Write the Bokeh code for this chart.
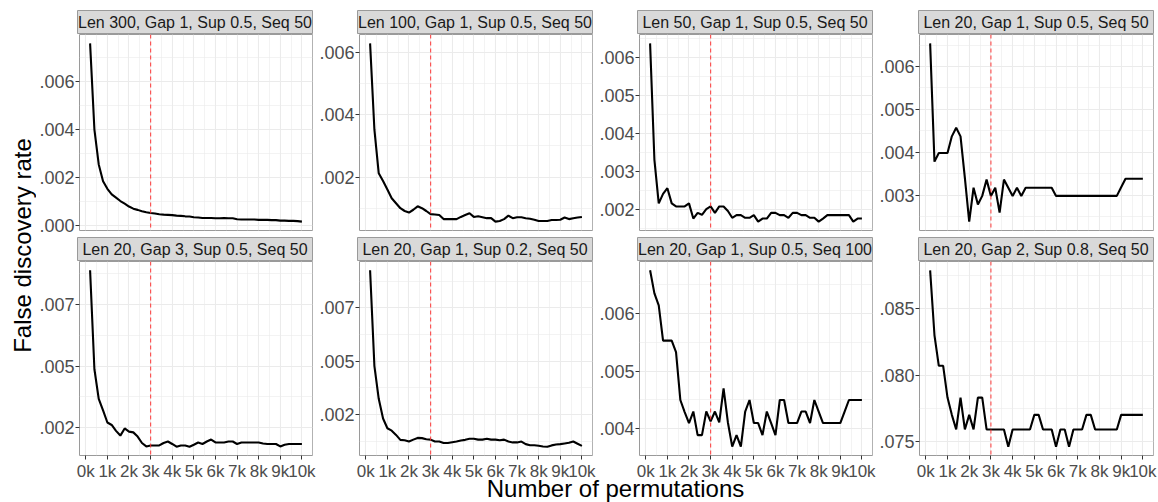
import math
from bokeh.plotting import figure
from bokeh.models import (Range1d, FixedTicker, LinearAxis, Grid, Span, Label,
                          CustomJSTickFormatter)
from bokeh.layouts import row, column
from bokeh.embed import file_html
from bokeh.resources import INLINE

# ---------------- data ----------------
permutations = [200, 400, 600, 800, 1000, 1200, 1400, 1600, 1800, 2000,
                2200, 2400, 2600, 2800, 3000, 3200, 3400, 3600, 3800, 4000,
                4200, 4400, 4600, 4800, 5000, 5200, 5400, 5600, 5800, 6000,
                6200, 6400, 6600, 6800, 7000, 7200, 7400, 7600, 7800, 8000,
                8200, 8400, 8600, 8800, 9000, 9200, 9400, 9600, 9800, 10000]
x_tick_values = [0, 1000, 2000, 3000, 4000, 5000, 6000, 7000, 8000, 9000, 10000]
x_tick_labels = ["0k", "1k", "2k", "3k", "4k", "5k", "6k", "7k", "8k", "9k", "10k"]
threshold = 3000

titles = ["Len 300, Gap 1, Sup 0.5, Seq 50", "Len 100, Gap 1, Sup 0.5, Seq 50",
          "Len 50, Gap 1, Sup 0.5, Seq 50", "Len 20, Gap 1, Sup 0.5, Seq 50",
          "Len 20, Gap 3, Sup 0.5, Seq 50", "Len 20, Gap 1, Sup 0.2, Seq 50",
          "Len 20, Gap 1, Sup 0.5, Seq 100", "Len 20, Gap 2, Sup 0.8, Seq 50"]

fdr_len300 = [0.0076, 0.0040, 0.00254, 0.00184, 0.00152, 0.00129, 0.00115, 0.00101, 0.0009, 0.00078,
              0.00069, 0.00064, 0.00058, 0.00054, 0.00051, 0.00049, 0.00046, 0.00044, 0.00043, 0.00042,
              0.0004, 0.00039, 0.00037, 0.00036, 0.00033, 0.00032, 0.0003, 0.0003, 0.0003, 0.00029,
              0.00029, 0.0003, 0.00029, 0.00029, 0.00025, 0.00024, 0.00024, 0.00024, 0.00024, 0.00022,
              0.00022, 0.00022, 0.00021, 0.00021, 0.00019, 0.00019, 0.00018, 0.00018, 0.00017, 0.00015]
fdr_len100 = [0.00629, 0.00352, 0.00212, 0.00187, 0.0016, 0.00132, 0.00116, 0.001, 0.00091, 0.00086,
              0.00095, 0.00106, 0.001, 0.00091, 0.00081, 0.0008, 0.00078, 0.00065, 0.00065, 0.00065,
              0.00065, 0.00072, 0.00078, 0.00084, 0.00072, 0.00074, 0.00071, 0.00068, 0.00068, 0.00057,
              0.00059, 0.00065, 0.00076, 0.00068, 0.00071, 0.00071, 0.00068, 0.00066, 0.00063, 0.00059,
              0.00059, 0.00059, 0.00062, 0.00062, 0.00063, 0.0007, 0.00065, 0.00068, 0.0007, 0.00072]
fdr_len50 = [0.00637, 0.0033, 0.00215, 0.0024, 0.00255, 0.00215, 0.00207, 0.00207, 0.00207, 0.00215,
             0.00175, 0.0019, 0.00185, 0.002, 0.00207, 0.0019, 0.00207, 0.00207, 0.00195, 0.00177,
             0.00184, 0.00184, 0.00177, 0.00177, 0.00184, 0.00167, 0.00175, 0.00175, 0.0019, 0.0019,
             0.00184, 0.00184, 0.00177, 0.0019, 0.0019, 0.00184, 0.00184, 0.00177, 0.00177, 0.00167,
             0.00175, 0.00184, 0.00184, 0.00184, 0.00184, 0.00184, 0.00184, 0.00167, 0.00175, 0.00175]
fdr_len20 = [0.00654, 0.00378, 0.00398, 0.00398, 0.00398, 0.00437, 0.00457, 0.00437, 0.0034, 0.00238,
             0.00317, 0.00278, 0.00298, 0.00336, 0.00298, 0.00317, 0.00259, 0.00336, 0.00317, 0.00298,
             0.00317, 0.00298, 0.00317, 0.00317, 0.00317, 0.00317, 0.00317, 0.00317, 0.00317, 0.00298,
             0.00298, 0.00298, 0.00298, 0.00298, 0.00298, 0.00298, 0.00298, 0.00298, 0.00298, 0.00298,
             0.00298, 0.00298, 0.00298, 0.00298, 0.00318, 0.00338, 0.00338, 0.00338, 0.00338, 0.00338]
fdr_gap3 = [0.00888, 0.00487, 0.00367, 0.0032, 0.00271, 0.00261, 0.00237, 0.00218, 0.00247, 0.00234,
            0.00231, 0.00214, 0.00188, 0.00174, 0.00178, 0.00178, 0.00178, 0.00188, 0.00194, 0.00184,
            0.00173, 0.00178, 0.00178, 0.00173, 0.00181, 0.0019, 0.00184, 0.00194, 0.00202, 0.0019,
            0.0019, 0.0019, 0.00194, 0.00194, 0.00184, 0.0019, 0.0019, 0.0019, 0.0019, 0.0019,
            0.00186, 0.00184, 0.00184, 0.00184, 0.00174, 0.00181, 0.00184, 0.00184, 0.00184, 0.00184]
fdr_sup02 = [0.00925, 0.00477, 0.00324, 0.00232, 0.00186, 0.00175, 0.00155, 0.00132, 0.0013, 0.00124,
             0.00133, 0.00141, 0.0014, 0.00135, 0.00133, 0.00124, 0.00124, 0.00117, 0.00117, 0.00121,
             0.00124, 0.00129, 0.00132, 0.00137, 0.00137, 0.00133, 0.00133, 0.00137, 0.00133, 0.00133,
             0.0013, 0.00133, 0.00124, 0.0012, 0.0012, 0.00124, 0.00112, 0.00107, 0.00107, 0.00104,
             0.00101, 0.001, 0.00106, 0.0011, 0.00112, 0.00115, 0.00118, 0.00124, 0.00114, 0.00104]
fdr_seq100 = [0.00675, 0.00635, 0.00614, 0.00553, 0.00553, 0.00553, 0.00533, 0.0045, 0.00429, 0.0041,
              0.0043, 0.00389, 0.00389, 0.0043, 0.00413, 0.0043, 0.00411, 0.0047, 0.00411, 0.00369,
              0.00389, 0.00369, 0.0043, 0.0045, 0.0041, 0.0041, 0.00389, 0.0043, 0.0041, 0.00389,
              0.0045, 0.0045, 0.0041, 0.0041, 0.0041, 0.0043, 0.0043, 0.0041, 0.0045, 0.0043,
              0.0041, 0.0041, 0.0041, 0.0041, 0.0041, 0.0043, 0.0045, 0.0045, 0.0045, 0.0045]
fdr_sup08 = [0.0879, 0.083, 0.0807, 0.0807, 0.0783, 0.077, 0.0759, 0.0783, 0.0759, 0.077,
             0.0759, 0.0783, 0.0783, 0.0759, 0.0759, 0.0759, 0.0759, 0.0759, 0.0746, 0.0759,
             0.0759, 0.0759, 0.0759, 0.0759, 0.077, 0.077, 0.0759, 0.0759, 0.0759, 0.0746,
             0.0759, 0.0759, 0.0746, 0.0759, 0.0759, 0.0759, 0.077, 0.077, 0.0759, 0.0759,
             0.0759, 0.0759, 0.0759, 0.0759, 0.077, 0.077, 0.077, 0.077, 0.077, 0.077]

series = [fdr_len300, fdr_len100, fdr_len50, fdr_len20,
          fdr_gap3, fdr_sup02, fdr_seq100, fdr_sup08]

y_ticks = [[0.0, 0.002, 0.004, 0.006], [0.002, 0.004, 0.006],
           [0.002, 0.003, 0.004, 0.005, 0.006], [0.003, 0.004, 0.005, 0.006],
           [0.0025, 0.005, 0.0075], [0.0025, 0.005, 0.0075],
           [0.004, 0.005, 0.006], [0.075, 0.080, 0.085]]
y_tick_labels = [[".000", ".002", ".004", ".006"], [".002", ".004", ".006"],
                 [".002", ".003", ".004", ".005", ".006"], [".003", ".004", ".005", ".006"],
                 [".002", ".005", ".007"], [".002", ".005", ".007"],
                 [".004", ".005", ".006"], [".075", ".080", ".085"]]

# ---------------- styling ----------------
FONT = "Liberation Sans"
BORDER = "#9A9A9A"
GRID = "#EBEBEB"
FRAME_W = 235
FRAME_H = 196
col_left = [41, 41, 41, 42]
col_right = [4, 4, 4, 5]

FMT_CODE = """
let best = 0;
for (let k = 0; k < vals.length; k++) {
  if (Math.abs(vals[k] - tick) < Math.abs(vals[best] - tick)) best = k;
}
return labs[best];
"""


def minor_of(ticks):
    step = ticks[1] - ticks[0]
    return ([ticks[0] - step / 2] + [(a + b) / 2 for a, b in zip(ticks[:-1], ticks[1:])]
            + [ticks[-1] + step / 2])


def base_fig(w, h, **kw):
    p = figure(width=w, height=h, toolbar_location=None, output_backend="svg",
               x_axis_location=None, y_axis_location=None, **kw)
    p.center = []          # drop the default grids
    p.min_border = 0
    p.min_border_left = 0
    p.min_border_right = 0
    p.min_border_top = 0
    p.min_border_bottom = 0
    p.border_fill_color = "white"
    return p


def strip(i, col, top):
    w = col_left[col] + FRAME_W + col_right[col]
    p = base_fig(w, top + 24, x_range=Range1d(0, 1), y_range=Range1d(0, 1))
    p.min_border_left = col_left[col]
    p.min_border_right = col_right[col]
    p.min_border_top = top
    p.background_fill_color = "#D9D9D9"
    p.outline_line_color = BORDER
    p.outline_line_width = 1
    p.add_layout(Label(x=0.5, y=0.5, text=titles[i], text_align="center",
                       text_baseline="middle", text_font=FONT,
                       text_font_size="16px", text_color="#1A1A1A"))
    return p


xmin, xmax = min(permutations), max(permutations)
xpad = 0.05 * (xmax - xmin)


def panel(i, col, bottom):
    ys = series[i]
    lo, hi = min(ys), max(ys)
    pad = 0.05 * (hi - lo)
    bb = 26 if bottom else 7
    w = col_left[col] + FRAME_W + col_right[col]
    p = base_fig(w, FRAME_H + bb,
                 x_range=Range1d(xmin - xpad, xmax + xpad),
                 y_range=Range1d(lo - pad, hi + pad))
    p.min_border_left = col_left[col]
    p.min_border_right = col_right[col]
    p.min_border_bottom = bb
    p.background_fill_color = "white"
    p.outline_line_color = BORDER
    p.outline_line_width = 1

    xt = FixedTicker(ticks=x_tick_values, minor_ticks=minor_of(x_tick_values))
    yt = FixedTicker(ticks=y_ticks[i], minor_ticks=minor_of(y_ticks[i]))
    for dim, tk in ((0, xt), (1, yt)):
        p.add_layout(Grid(dimension=dim, ticker=tk, grid_line_color=GRID,
                          grid_line_width=1.1, minor_grid_line_color=GRID,
                          minor_grid_line_width=0.6))

    yax = LinearAxis(ticker=FixedTicker(ticks=y_ticks[i]),
                     formatter=CustomJSTickFormatter(args=dict(vals=y_ticks[i], labs=y_tick_labels[i]),
                                                     code=FMT_CODE),
                     axis_line_color=None, major_tick_line_color="#333333",
                     major_tick_out=4, major_tick_in=0, minor_tick_line_color=None,
                     major_label_standoff=1, major_label_text_font=FONT,
                     major_label_text_font_size="18px", major_label_text_color="#4D4D4D")
    p.add_layout(yax, "left")
    if bottom:
        xax = LinearAxis(ticker=FixedTicker(ticks=x_tick_values),
                         formatter=CustomJSTickFormatter(args=dict(vals=x_tick_values, labs=x_tick_labels),
                                                         code=FMT_CODE),
                         axis_line_color=None, major_tick_line_color="#333333",
                         major_tick_out=4, major_tick_in=0, minor_tick_line_color=None,
                         major_label_standoff=2, major_label_text_font=FONT,
                         major_label_text_font_size="17px", major_label_text_color="#4D4D4D")
        p.add_layout(xax, "below")

    p.add_layout(Span(location=threshold, dimension="height", line_color="#FF3030",
                      line_alpha=0.8, line_dash="4 3", line_width=1.2))
    p.line(permutations, ys, line_color="black", line_width=2.1)
    return p


strips1 = [strip(i, i, 10) for i in range(4)]
panels1 = [panel(i, i, False) for i in range(4)]
strips2 = [strip(i + 4, i, 0) for i in range(4)]
panels2 = [panel(i + 4, i, True) for i in range(4)]

# axis titles
total_w = sum(col_left) + 4 * FRAME_W + sum(col_right)   # 1122
left_w = 36
XT_H = 30
xt_fig = base_fig(total_w, XT_H, x_range=Range1d(left_w, left_w + total_w), y_range=Range1d(0, XT_H))
xt_fig.outline_line_color = None
xt_fig.background_fill_color = None
xt_fig.border_fill_color = None
xt_fig.margin = (-11, 0, 0, 0)     # let the title band overlap the empty part below the tick labels
xt_fig.add_layout(Label(x=615, y=14.0, text="Number of permutations", text_align="center",
                        text_baseline="middle", text_font=FONT, text_font_size="24px",
                        text_color="black"))

yt_fig = base_fig(left_w, 502, x_range=Range1d(0, left_w), y_range=Range1d(0, 502))
yt_fig.outline_line_color = None
yt_fig.background_fill_color = None
yt_fig.add_layout(Label(x=22, y=502 - 245, text="False discovery rate", text_align="center",
                        text_baseline="middle", angle=math.pi / 2, text_font=FONT,
                        text_font_size="24px", text_color="black"))

layout = row(yt_fig, column(row(*strips1), row(*panels1), row(*strips2), row(*panels2), xt_fig))

open("out.html", "w").write(file_html(layout, INLINE))
